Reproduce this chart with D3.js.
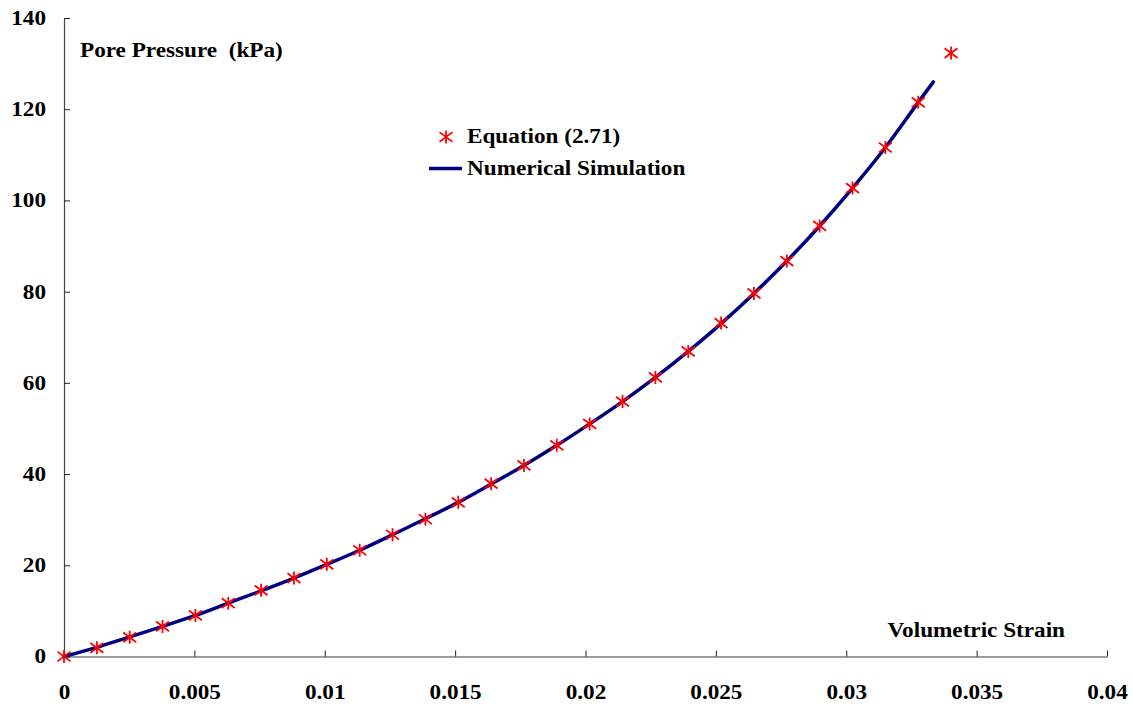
<!DOCTYPE html>
<html>
<head>
<meta charset="utf-8">
<script src="https://cdn.jsdelivr.net/npm/d3@7"></script>
<style>
  html, body { margin: 0; padding: 0; background: #fff; }
  svg text { font-family: "Liberation Serif", "Times New Roman", serif; font-weight: bold; fill: #000; }
</style>
</head>
<body>
<svg id="chart" width="1133" height="706"></svg>
<script>
// Volumetric strain at which Equation (2.71) was evaluated
const equationStrain = [0, 0.00126, 0.00252, 0.00378, 0.00504, 0.0063, 0.00756, 0.00882, 0.01008,
  0.01134, 0.0126, 0.01386, 0.01512, 0.01638, 0.01764, 0.0189, 0.02016, 0.02142, 0.02268,
  0.02394, 0.0252, 0.02646, 0.02772, 0.02898, 0.03024, 0.0315, 0.03276, 0.03402];
// Pore pressure (kPa) from Equation (2.71)
const equationPressure = [0, 1.9, 4.2, 6.6, 9.0, 11.7, 14.5, 17.2, 20.2,
  23.3, 26.7, 30.1, 33.8, 37.9, 41.9, 46.3, 51.0, 55.9, 61.2,
  66.9, 73.1, 79.6, 86.7, 94.4, 102.7, 111.6, 121.5, 132.3];

// Numerical simulation curve
const simStrain = [0, 0.00126, 0.00252, 0.00378, 0.00504, 0.0063, 0.00756, 0.00882, 0.01008,
  0.01134, 0.0126, 0.01386, 0.01512, 0.01638, 0.01764, 0.0189, 0.02016, 0.02142, 0.02268,
  0.02394, 0.0252, 0.02646, 0.02772, 0.02898, 0.03024, 0.0315, 0.03276, 0.03334];
const simPressure = [0, 2.0, 4.3, 6.6, 9.0, 11.7, 14.4, 17.2, 20.2,
  23.3, 26.7, 30.2, 33.8, 37.8, 41.9, 46.3, 51.0, 55.9, 61.2,
  66.9, 73.0, 79.6, 86.7, 94.4, 102.7, 111.6, 121.5, 126.0];

const xTicks = [0, 0.005, 0.01, 0.015, 0.02, 0.025, 0.03, 0.035, 0.04];
const xTickLabels = ["0", "0.005", "0.01", "0.015", "0.02", "0.025", "0.03", "0.035", "0.04"];
const yTicks = [0, 20, 40, 60, 80, 100, 120, 140];

const margin = { top: 18, right: 26, bottom: 49.5, left: 64 };
const width = 1133, height = 706;
const WIDE = 1.16; // horizontal stretch of the lettering

const svg = d3.select("#chart");

const x = d3.scaleLinear().domain([0, 0.04]).range([margin.left, width - margin.right]);
const y = d3.scaleLinear().domain([0, 140]).range([height - margin.bottom, margin.top]);

// widen tick labels in place, keeping their anchor point
function widen(texts) {
  texts.each(function () {
    const t = d3.select(this);
    const x0 = +t.attr("x") || 0;
    t.attr("x", x0 / WIDE).attr("transform", `scale(${WIDE},1)`);
  });
}

// label placed at (px, py), widened horizontally
function label(px, py, str, anchor) {
  return svg.append("text")
    .attr("transform", `translate(${px},${py}) scale(${WIDE},1)`)
    .attr("text-anchor", anchor || "start")
    .style("font-size", "20px")
    .text(str);
}

// X axis: ticks point inward, labels set well below the line
const xAxis = svg.append("g")
  .attr("transform", `translate(0,${y(0)})`)
  .call(d3.axisBottom(x).tickValues(xTicks).tickSize(-6).tickPadding(28)
    .tickFormat((d, i) => xTickLabels[i]).tickSizeOuter(0));
xAxis.select(".domain").attr("stroke", "#7a7a7a").attr("stroke-width", 1.5);
xAxis.selectAll(".tick line").attr("stroke", "#222").attr("stroke-width", 1);
xAxis.selectAll("text").style("font-size", "20px").call(widen);

// Y axis
const yAxis = svg.append("g")
  .attr("transform", `translate(${x(0)},0)`)
  .call(d3.axisLeft(y).tickValues(yTicks).tickSize(-6).tickPadding(18).tickSizeOuter(0));
yAxis.select(".domain").attr("stroke", "#444").attr("stroke-width", 1.2);
yAxis.selectAll(".tick line").attr("stroke", "#222").attr("stroke-width", 1);
yAxis.selectAll("text").style("font-size", "20px").call(widen);

// Numerical simulation line
const simData = simStrain.map((s, i) => [s, simPressure[i]]);
svg.append("path")
  .datum(simData)
  .attr("fill", "none")
  .attr("stroke", "#000080")
  .attr("stroke-width", 3.5)
  .attr("stroke-linecap", "round")
  .attr("d", d3.line().x(d => x(d[0])).y(d => y(d[1])).curve(d3.curveMonotoneX));

// Asterisk marker: vertical stroke crossed by an X
const star = (r) => `M0,${-r}L0,${r}M${-r},${-r * 0.75}L${r},${r * 0.75}M${-r},${r * 0.75}L${r},${-r * 0.75}`;

const eqData = equationStrain.map((s, i) => [s, equationPressure[i]]);
svg.append("g").selectAll("path")
  .data(eqData)
  .join("path")
  .attr("transform", d => `translate(${x(d[0])},${y(d[1])})`)
  .attr("d", star(6.5))
  .attr("fill", "none")
  .attr("stroke", "#ff0000")
  .attr("stroke-width", 1.8);

// Axis titles
label(80, 57, "Pore Pressure\u00a0\u00a0(kPa)");
label(1065, 637, "Volumetric Strain", "end");

// Legend
svg.append("path")
  .attr("transform", "translate(446,137)")
  .attr("d", star(6.5))
  .attr("fill", "none").attr("stroke", "#ff0000").attr("stroke-width", 1.8);
label(467, 143, "Equation (2.71)");
svg.append("line").attr("x1", 429).attr("x2", 462).attr("y1", 168.5).attr("y2", 168.5)
  .attr("stroke", "#000080").attr("stroke-width", 3.5);
label(467, 175, "Numerical Simulation");
</script>
</body>
</html>
